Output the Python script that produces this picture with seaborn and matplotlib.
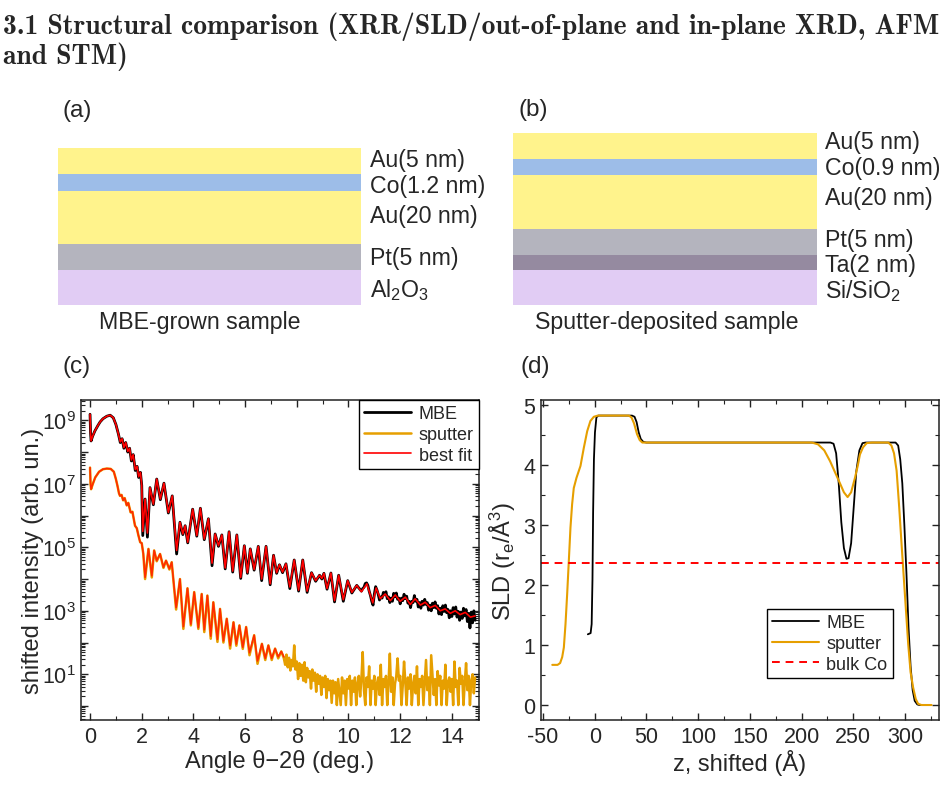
import numpy as np
import matplotlib
matplotlib.use("Agg")
import matplotlib.pyplot as plt
from matplotlib.patches import Rectangle
from matplotlib.ticker import FixedLocator, MultipleLocator, LogLocator, NullFormatter, FuncFormatter
import seaborn as sns

# --- layer schematics (a) and (b) ---
mbe_layers = ["Au(5 nm)", "Co(1.2 nm)", "Au(20 nm)", "Pt(5 nm)", "Al$_2$O$_3$"]
mbe_layer_colors = ["#FFF38C", "#9DBDE8", "#FFF38C", "#B4B4BE", "#E1CCF4"]
sput_layers = ["Au(5 nm)", "Co(0.9 nm)", "Au(20 nm)", "Pt(5 nm)", "Ta(2 nm)", "Si/SiO$_2$"]
sput_layer_colors = ["#FFF38C", "#9DBDE8", "#FFF38C", "#B4B4BE", "#958AA0", "#E1CCF4"]

# --- (c) XRR, log10 of shifted intensity ---
fit_mbe_angle = [
    0.00, 0.02, 0.04, 0.10, 0.19, 0.30, 0.39, 0.50, 0.65, 0.78,
    0.90, 1.00, 1.10, 1.17, 1.24, 1.31, 1.38, 1.46, 1.53, 1.60,
    1.67, 1.75, 1.82, 1.88, 1.95, 2.00, 2.04, 2.13, 2.22, 2.32,
    2.45, 2.58, 2.72, 2.86, 3.03, 3.18, 3.35, 3.48, 3.59, 3.68,
    3.78, 3.97, 4.13, 4.27, 4.42, 4.58, 4.72, 4.84, 4.97, 5.10,
    5.23, 5.38, 5.52, 5.68, 5.83, 5.97, 6.09, 6.20, 6.35, 6.51,
    6.64, 6.81, 6.97, 7.10, 7.22, 7.33, 7.45, 7.58, 7.73, 7.90,
    8.07, 8.23, 8.40, 8.57, 8.73, 8.88, 8.97, 9.05, 9.17, 9.32,
    9.46, 9.62, 9.80, 9.97, 10.13, 10.32, 10.50, 10.71, 10.94, 11.07,
    11.23, 11.42, 11.62, 11.81, 12.00, 12.20, 12.39, 12.58, 12.78, 12.97,
    13.16, 13.36, 13.55, 13.74, 13.94, 14.13, 14.32, 14.52, 14.72, 14.90]
fit_mbe_log = [
    9.19, 8.60, 8.35, 8.50, 8.67, 8.83, 8.95, 9.05, 9.13, 9.16,
    9.08, 8.87, 8.56, 8.32, 8.42, 8.14, 8.30, 8.02, 8.12, 7.75,
    7.92, 7.45, 7.55, 7.22, 7.36, 6.95, 5.50, 6.52, 5.45, 6.88,
    6.36, 7.15, 6.52, 7.02, 6.10, 6.62, 4.90, 5.79, 5.42, 5.68,
    5.16, 6.20, 5.37, 6.23, 5.26, 5.90, 4.50, 5.42, 5.05, 5.39,
    4.35, 5.49, 4.25, 5.39, 4.05, 5.05, 4.20, 4.95, 4.30, 5.03,
    4.00, 5.03, 3.85, 4.75, 4.20, 4.45, 4.22, 4.48, 3.75, 4.60,
    3.65, 4.60, 3.62, 4.20, 3.95, 4.12, 4.02, 4.18, 3.70, 4.19,
    3.32, 4.12, 3.35, 3.95, 3.58, 3.80, 3.60, 3.85, 3.25, 3.72,
    3.38, 3.53, 3.32, 3.50, 3.30, 3.43, 3.20, 3.38, 3.18, 3.27,
    3.10, 3.17, 3.00, 3.06, 2.92, 3.00, 2.88, 2.95, 2.80, 2.84]

# measured MBE: same angles as the fit up to 10.32 deg, then a noisy tail
mbe_head_log = [
    9.19, 8.60, 8.35, 8.50, 8.67, 8.83, 8.95, 9.05, 9.13, 9.16,
    9.08, 8.87, 8.56, 8.30, 8.42, 8.12, 8.30, 8.00, 8.12, 7.72,
    7.92, 7.42, 7.55, 7.20, 7.36, 6.95, 5.37, 6.52, 5.32, 6.88,
    6.34, 7.15, 6.50, 7.02, 6.08, 6.62, 4.79, 5.79, 5.40, 5.68,
    5.14, 6.20, 5.35, 6.23, 5.24, 5.90, 4.42, 5.42, 5.03, 5.39,
    4.32, 5.49, 4.22, 5.39, 4.02, 5.05, 4.18, 4.95, 4.28, 5.03,
    3.95, 5.03, 3.82, 4.75, 4.18, 4.45, 4.20, 4.48, 3.70, 4.60,
    3.62, 4.60, 3.58, 4.20, 3.93, 4.12, 4.00, 4.18, 3.68, 4.19,
    3.28, 4.12, 3.30, 3.95, 3.56, 3.80]
mbe_tail_log = [
    3.62, 3.70, 3.74, 3.86, 3.88, 3.80, 3.62, 3.48, 3.30, 3.18,
    3.52, 3.76, 3.66, 3.52, 3.34, 3.44, 3.40, 3.58, 3.50, 3.60,
    3.38, 3.44, 3.26, 3.40, 3.30, 3.55, 3.44, 3.56, 3.36, 3.40,
    3.22, 3.40, 3.32, 3.52, 3.38, 3.46, 3.24, 3.30, 3.10, 3.30,
    3.26, 3.48, 3.30, 3.36, 3.12, 3.26, 3.08, 3.30, 3.18, 3.36,
    3.20, 3.26, 3.02, 3.18, 3.00, 3.24, 3.10, 3.28, 3.08, 3.16,
    2.90, 3.08, 2.88, 3.16, 2.98, 3.18, 2.94, 3.04, 2.78, 3.00,
    2.82, 3.10, 2.90, 3.12, 2.80, 2.98, 2.70, 2.96, 2.76, 3.08,
    2.84, 3.04, 2.66, 2.92, 2.46, 2.96, 2.62, 3.00, 2.70]

fit_sput_angle = [
    0.00, 0.02, 0.04, 0.10, 0.20, 0.35, 0.50, 0.65, 0.80, 0.92,
    1.00, 1.06, 1.12, 1.16, 1.22, 1.28, 1.34, 1.42, 1.48, 1.57,
    1.64, 1.74, 1.81, 1.87, 1.94, 2.00, 2.06, 2.13, 2.26, 2.39,
    2.48, 2.58, 2.71, 2.84, 2.94, 3.07, 3.16, 3.33, 3.48, 3.61,
    3.77, 3.90, 4.03, 4.19, 4.32, 4.42, 4.54, 4.67, 4.77, 4.93,
    5.03, 5.16, 5.29, 5.42, 5.55, 5.66, 5.78, 5.91, 6.04, 6.17,
    6.35, 6.48, 6.65, 6.78, 6.90, 7.03, 7.16, 7.28, 7.40, 7.50]
fit_sput_log = [
    7.51, 7.00, 6.83, 6.98, 7.20, 7.38, 7.46, 7.48, 7.47, 7.38,
    7.15, 6.94, 6.70, 6.62, 6.65, 6.48, 6.55, 6.32, 6.40, 6.10,
    6.12, 5.68, 5.60, 5.38, 5.16, 5.13, 4.80, 4.05, 4.95, 4.10,
    4.90, 4.58, 4.79, 4.37, 4.58, 4.32, 4.53, 3.10, 4.00, 2.50,
    3.71, 2.58, 3.59, 2.47, 3.53, 2.40, 3.48, 2.20, 3.27, 2.10,
    3.06, 2.05, 2.75, 1.90, 2.64, 1.95, 2.54, 1.85, 2.49, 1.68,
    2.23, 1.42, 1.96, 1.50, 1.91, 1.50, 1.81, 1.55, 1.72, 1.55]
sput_head_log = [
    7.51, 7.00, 6.83, 6.98, 7.20, 7.38, 7.46, 7.48, 7.47, 7.38,
    7.15, 6.94, 6.70, 6.62, 6.65, 6.48, 6.55, 6.32, 6.40, 6.10,
    6.12, 5.68, 5.60, 5.38, 5.16, 5.13, 4.80, 4.00, 4.95, 4.05,
    4.90, 4.56, 4.79, 4.35, 4.58, 4.30, 4.53, 3.04, 4.00, 2.43,
    3.71, 2.54, 3.59, 2.43, 3.53, 2.33, 3.48, 2.12, 3.27, 2.02,
    3.06, 2.00, 2.75, 1.81, 2.64, 1.90, 2.54, 1.80, 2.49, 1.60,
    2.23, 1.33, 1.96, 1.45, 1.91, 1.45, 1.81, 1.50, 1.72, 1.50]
# sputter tail, 7.55 .. 14.90 deg in 0.05 deg steps
sput_tail_log = [
    1.30, 1.62, 1.22, 1.52, 1.12, 1.45, 1.25, 1.91, 1.15,
    1.40, 0.85, 1.35, 0.95, 1.30, 0.80, 1.38, 0.75, 1.20, 0.90,
    1.10, 0.55, 1.15, 0.80, 1.05, 0.45, 1.00, 0.70, 0.95, 0.35,
    0.90, 0.60, 0.95, 0.25, 0.85, 0.50, 0.80, 0.10, 0.80, 0.40,
    0.75, 0.03, 0.85, 0.45, 0.03, 0.90, 0.40, 0.80, 0.03, 0.85,
    0.55, 0.95, 0.03, 0.80, 0.45, 0.90, 0.03, 0.70, 0.95, 0.30,
    0.85, 1.70, 0.50, 0.03, 0.90, 0.60, 1.25, 0.03, 0.80, 0.55,
    0.95, 0.03, 0.70, 0.90, 0.35, 1.30, 0.03, 0.85, 0.60, 0.95,
    0.03, 0.75, 1.65, 0.45, 0.90, 0.03, 0.70, 0.95, 1.50, 0.80,
    0.95, 0.03, 0.65, 1.40, 0.75, 0.03, 0.90, 0.55, 1.00, 0.03,
    0.70, 0.95, 0.40, 1.25, 0.03, 0.85, 0.60, 0.95, 0.03, 0.75,
    1.45, 0.50, 0.90, 0.03, 1.60, 0.95, 0.35, 0.85, 0.03, 1.10,
    0.65, 0.95, 0.03, 0.80, 0.55, 1.30, 0.03, 0.75, 0.90, 0.45,
    0.85, 0.03, 1.40, 0.60, 0.80, 0.03, 1.20, 0.70, 0.95, 0.03,
    0.75, 1.35, 0.50, 0.95, 0.03, 0.80, 1.00, 0.40, 0.90]

# --- (d) SLD profiles ---
sld_mbe_z = [-6.7, -4.0, -3.0, -2.2, -1.6, -0.8, 0.2, 1.6, 3.5, 36.0,
             38.5, 40.5, 42.5, 44.5, 47.0, 50.0, 228.0, 231.0, 233.5, 236.0,
             238.5, 241.0, 243.5, 245.5, 248.0, 250.5, 253.0, 256.0, 259.0, 262.0,
             291.0, 293.5, 295.5, 297.5, 299.5, 301.5, 303.5, 305.5, 307.5, 309.5,
             312.0, 314.0, 324.0]
sld_mbe = [1.18, 1.20, 1.35, 2.10, 3.20, 4.10, 4.55, 4.80, 4.83, 4.83,
           4.81, 4.72, 4.55, 4.44, 4.39, 4.38, 4.38, 4.36, 4.20, 3.70,
           3.05, 2.62, 2.44, 2.45, 2.70, 3.30, 3.90, 4.25, 4.37, 4.38,
           4.38, 4.33, 4.10, 3.70, 3.00, 2.20, 1.30, 0.65, 0.25, 0.07,
           0.01, 0.00, 0.00]
sld_sput_z = [-41.1, -36.0, -33.5, -31.5, -29.9, -28.3, -26.7, -25.1, -23.5, -21.9,
              -20.3, -17.7, -13.8, -10.6, -7.3, -4.2, -0.9, 3.0, 33.0, 35.5,
              38.0, 40.9, 43.5, 46.0, 49.0, 210.0, 216.0, 222.0, 227.6, 232.0,
              237.2, 241.0, 244.6, 248.0, 251.7, 254.5, 256.5, 259.5, 263.0, 268.0,
              284.0, 287.0, 289.5, 292.0, 294.5, 296.8, 300.0, 303.2, 305.5, 308.0,
              310.5, 312.8, 316.0, 325.8]
sld_sput = [0.67, 0.67, 0.70, 0.80, 0.96, 1.35, 1.85, 2.40, 2.96, 3.35,
            3.62, 3.79, 3.99, 4.29, 4.57, 4.74, 4.81, 4.83, 4.83, 4.80,
            4.70, 4.52, 4.42, 4.38, 4.38, 4.38, 4.35, 4.25, 4.07, 3.90,
            3.70, 3.55, 3.47, 3.55, 3.79, 4.00, 4.18, 4.30, 4.37, 4.38,
            4.38, 4.33, 4.20, 3.91, 3.30, 2.68, 1.85, 1.02, 0.55, 0.29,
            0.10, 0.02, 0.00, 0.00]
bulk_co_sld = 2.37

ORANGE = "#E69F00"

sns.set_theme(style="ticks")
plt.rcParams["font.family"] = ["Liberation Sans", "DejaVu Sans"]
plt.rcParams["mathtext.fontset"] = "custom"
plt.rcParams["mathtext.rm"] = "Liberation Sans"
plt.rcParams["mathtext.it"] = "Liberation Sans:italic"
plt.rcParams["axes.edgecolor"] = "#222222"
plt.rcParams["axes.linewidth"] = 1.1
plt.rcParams["axes.unicode_minus"] = False

fig = plt.figure(figsize=(9.48, 8.04), dpi=100)

# full-figure canvas in pixel coordinates for the schematics and titles
canvas = fig.add_axes([0, 0, 1, 1])
canvas.set_xlim(0, 948)
canvas.set_ylim(804, 0)
canvas.axis("off")

head_font = ["cmb10", "DejaVu Serif"]
canvas.text(3, 27, "3.1 Structural comparison (XRR/SLD/out-of-plane and in-plane XRD, AFM",
            fontsize=19.9, family=head_font, va="center", ha="left")
canvas.text(3, 57, "and STM)", fontsize=19.9, family=head_font, va="center", ha="left")


def draw_stack(x0, x1, edges, names, colors, label_x, label_y):
    for i, (name, col) in enumerate(zip(names, colors)):
        canvas.add_patch(Rectangle((x0, edges[i]), x1 - x0, edges[i + 1] - edges[i],
                                   facecolor=col, edgecolor="none"))
        canvas.text(label_x, label_y[i], name, fontsize=16.7, va="center", ha="left")


draw_stack(58, 361, [149, 175, 192, 245, 271, 306], mbe_layers, mbe_layer_colors,
           370, [161, 186, 217, 259, 290])
draw_stack(513, 817, [134, 160, 176, 230, 256, 271, 306], sput_layers, sput_layer_colors,
           825, [143, 169, 199, 241, 266, 291])
canvas.text(200, 323, "MBE-grown sample", fontsize=16.7, ha="center", va="center")
canvas.text(667, 323, "Sputter-deposited sample", fontsize=16.7, ha="center", va="center")
for lab, x, y in [("(a)", 63, 111), ("(b)", 519, 110), ("(c)", 63, 367), ("(d)", 521, 367)]:
    canvas.text(x, y, lab, fontsize=17.5, ha="left", va="center")

# --- (c) XRR ---
axc = fig.add_axes([81 / 948, 83 / 804, 398 / 948, 320 / 804])
mbe_angle = fit_mbe_angle[:len(mbe_head_log)] + list(np.linspace(10.5, 14.9, len(mbe_tail_log)))
mbe_int = 10 ** np.array(mbe_head_log + mbe_tail_log)
sput_angle = fit_sput_angle + list(np.linspace(7.55, 14.90, len(sput_tail_log)))
sput_int = 10 ** np.array(sput_head_log + sput_tail_log)

sns.lineplot(x=mbe_angle, y=mbe_int, ax=axc, color="black", lw=2.0, sort=False,
             estimator=None, label="MBE")
sns.lineplot(x=sput_angle, y=sput_int, ax=axc, color=ORANGE, lw=1.8, sort=False,
             estimator=None, label="sputter")
sns.lineplot(x=fit_mbe_angle, y=10 ** np.array(fit_mbe_log), ax=axc, color="red", lw=1.2,
             sort=False, estimator=None, label="best fit")
sns.lineplot(x=fit_sput_angle, y=10 ** np.array(fit_sput_log), ax=axc, color="#FF2A00", lw=1.2,
             sort=False, estimator=None)
axc.set_yscale("log")
axc.set_xlim(-0.35, 15.05)
axc.set_ylim(10 ** -0.44, 10 ** 9.64)
axc.xaxis.set_major_locator(MultipleLocator(2))
axc.xaxis.set_minor_locator(MultipleLocator(1))
axc.yaxis.set_major_locator(FixedLocator([10.0 ** k for k in range(0, 10)]))
axc.yaxis.set_major_formatter(FuncFormatter(
    lambda v, p: "$10^{%d}$" % round(np.log10(v)) if round(np.log10(v)) % 2 == 1 else ""))
axc.yaxis.set_minor_locator(LogLocator(base=10, subs=np.arange(2, 10), numticks=30))
axc.yaxis.set_minor_formatter(NullFormatter())
axc.set_xlabel("Angle θ−2θ (deg.)", fontsize=17, labelpad=2)
axc.set_ylabel("shifted intensity (arb. un.)", fontsize=17, labelpad=-2)
axc.legend(loc="upper right", borderaxespad=0, fancybox=False, edgecolor="black",
           framealpha=1, fontsize=13, handlelength=2.6, borderpad=0.3, labelspacing=0.2,
           handletextpad=0.4)

# --- (d) SLD ---
axd = fig.add_axes([541 / 948, 83 / 804, 398 / 948, 320 / 804])
sns.lineplot(x=sld_mbe_z, y=sld_mbe, ax=axd, color="black", lw=1.3, sort=False,
             estimator=None, label="MBE")
sns.lineplot(x=sld_sput_z, y=sld_sput, ax=axd, color=ORANGE, lw=1.5, sort=False,
             estimator=None, label="sputter")
axd.axhline(bulk_co_sld, color="red", lw=1.4, ls=(0, (4, 3)), label="bulk Co")
axd.set_xlim(-52, 333)
axd.set_ylim(-0.25, 5.09)
axd.xaxis.set_major_locator(MultipleLocator(50))
axd.xaxis.set_minor_locator(MultipleLocator(25))
axd.yaxis.set_major_locator(MultipleLocator(1))
axd.yaxis.set_minor_locator(MultipleLocator(0.5))
axd.set_xlabel("z, shifted (Å)", fontsize=17, labelpad=2)
axd.set_ylabel("SLD (r$_\\mathrm{e}$/Å$^3$)", fontsize=17, labelpad=4)
axd.legend(loc="lower right", bbox_to_anchor=(0.884, 0.131), borderaxespad=0,
           fancybox=False, edgecolor="black", framealpha=1, fontsize=13,
           handlelength=2.6, borderpad=0.3, labelspacing=0.2, handletextpad=0.4)

for ax in (axc, axd):
    ax.tick_params(which="both", direction="in", top=True, right=True, labelsize=15.5,
                   color="#222222")
    ax.tick_params(which="major", length=5, width=1.0, pad=4)
    ax.tick_params(which="minor", length=3, width=0.8)

fig.savefig("out.png", dpi=100)
